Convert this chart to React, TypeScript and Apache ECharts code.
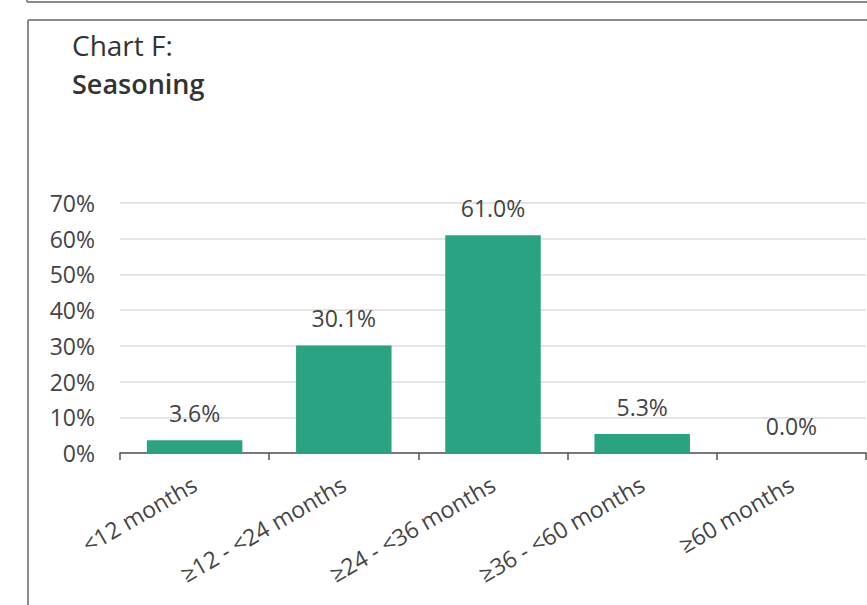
import React, { useEffect, useRef } from "react";
import * as echarts from "echarts";

const categories = ["<12 months", "≥12 - <24 months", "≥24 - <36 months", "≥36 - <60 months", "≥60 months"];
const shares = [3.6, 30.1, 61.0, 5.3, 0.0];
const yTicks = { min: 0, max: 70, interval: 10 };
const titleLine = "Chart F:";
const subtitleLine = "Seasoning";

const FONT = "'Open Sans', 'Noto Sans', sans-serif";
const TEXT = "#444444";
const FRAME = "#8c8c8c";

export default function App() {
  const ref = useRef<HTMLDivElement>(null);

  useEffect(() => {
    if (!ref.current) return;
    const chart = echarts.init(ref.current, undefined, { renderer: "svg" });
    chart.setOption({
      animation: false,
      textStyle: { fontFamily: FONT },
      graphic: [
        // upper panel edge
        { type: "line", shape: { x1: 27, y1: 2, x2: 867, y2: 2 }, style: { stroke: FRAME, lineWidth: 2 } },
        { type: "line", shape: { x1: 27, y1: 0, x2: 27, y2: 2 }, style: { stroke: FRAME, lineWidth: 2 } },
        // chart panel
        { type: "line", shape: { x1: 28, y1: 20, x2: 867, y2: 20 }, style: { stroke: FRAME, lineWidth: 2 } },
        { type: "line", shape: { x1: 28, y1: 20, x2: 28, y2: 605 }, style: { stroke: FRAME, lineWidth: 2 } },
        {
          type: "text",
          left: 72,
          top: 31,
          style: {
            text: `{a|${titleLine}}\n{b|${subtitleLine}}`,
            rich: {
              a: { fontSize: 28, fontFamily: FONT, fill: "#333", lineHeight: 38 },
              b: { fontSize: 27, fontFamily: FONT, fontWeight: 600, fill: "#333", lineHeight: 38 },
            },
          },
        },
      ],
      grid: { left: 120, right: 1, top: 203, bottom: 152, containLabel: false },
      xAxis: {
        type: "category",
        data: categories,
        axisLine: { lineStyle: { color: "#555", width: 1.5 } },
        axisTick: { show: true, length: 7, lineStyle: { color: "#555", width: 1.5 } },
        axisLabel: { rotate: 30, fontSize: 23, color: TEXT, margin: 29, interval: 0 },
      },
      yAxis: {
        type: "value",
        min: yTicks.min,
        max: yTicks.max,
        interval: yTicks.interval,
        axisLine: { show: false },
        axisTick: { show: false },
        axisLabel: { fontSize: 23, color: TEXT, margin: 25, formatter: "{value}%" },
        splitLine: { lineStyle: { color: "#dddddd", width: 1.5 } },
      },
      series: [
        {
          type: "bar",
          data: shares,
          barWidth: "64%",
          itemStyle: { color: "#2aa383" },
          label: {
            show: true,
            position: "top",
            distance: 16,
            fontSize: 23,
            color: TEXT,
            formatter: (p: any) => `${Number(p.value).toFixed(1)}%`,
          },
        },
      ],
    });
    return () => chart.dispose();
  }, []);

  return (
    <div
      ref={ref}
      style={{ position: "fixed", left: 0, top: 0, width: 867, height: 605, background: "#fff" }}
    />
  );
}
